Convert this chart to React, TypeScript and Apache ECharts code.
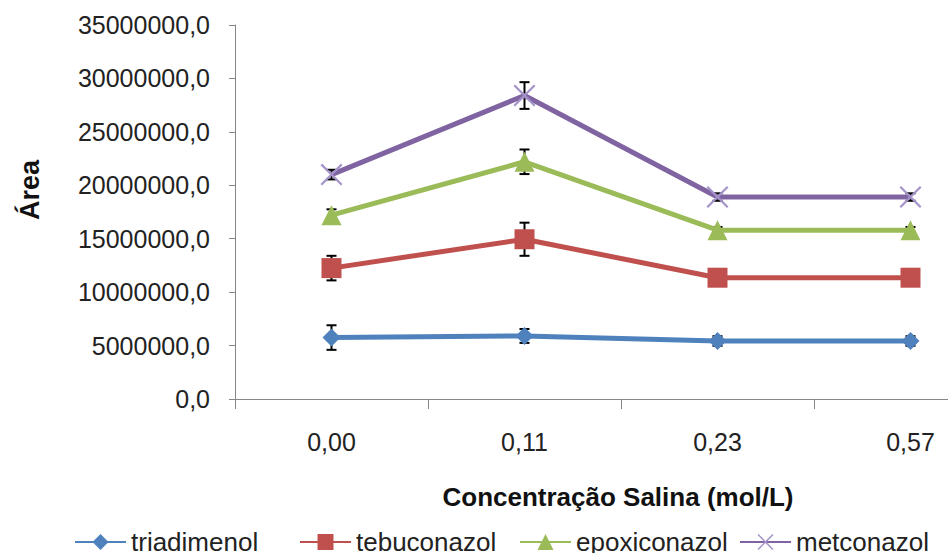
import React, { useEffect, useRef } from "react";
import * as echarts from "echarts";

const categories = ["0,00", "0,11", "0,23", "0,57"];
const seriesNames = ["triadimenol", "tebuconazol", "epoxiconazol", "metconazol"];
const triadimenol = [5750000, 5900000, 5430000, 5430000];
const triadimenolErr = [1150000, 650000, 450000, 450000];
const tebuconazol = [12250000, 14950000, 11350000, 11350000];
const tebuconazolErr = [1150000, 1550000, 250000, 250000];
const epoxiconazol = [17200000, 22200000, 15800000, 15800000];
const epoxiconazolErr = [550000, 1150000, 300000, 300000];
const metconazol = [21000000, 28400000, 18900000, 18900000];
const metconazolErr = [450000, 1250000, 350000, 350000];

const colors = ["#4F81BD", "#C0504D", "#9BBB59", "#8064A2"];
const FONT = "Liberation Sans";

export default function App() {
  const ref = useRef<HTMLDivElement>(null);
  useEffect(() => {
    if (!ref.current) return;
    const chart = echarts.init(ref.current, null, { renderer: "svg" });
    const values = [triadimenol, tebuconazol, epoxiconazol, metconazol];
    const errs = [triadimenolErr, tebuconazolErr, epoxiconazolErr, metconazolErr];
    const symbols = [
      "diamond",
      "rect",
      "triangle",
      "path://M0,0.7 L0.7,0 L10,9.3 L9.3,10 Z M9.3,0 L10,0.7 L0.7,10 L0,9.3 Z",
    ];
    const sizes = [18, 20, 20, 22];
    const symbolColors = ["#4F81BD", "#C0504D", "#9BBB59", "#A493C8"];
    const legendLefts = [69, 294, 514, 734];

    const lineSeries = seriesNames.map((name, i) => ({
      type: "line",
      name,
      data: values[i],
      symbol: symbols[i],
      symbolSize: sizes[i],
      showAllSymbol: true,
      lineStyle: { color: colors[i], width: 5 },
      itemStyle: { color: symbolColors[i] },
      z: 3,
    }));

    const errSeries = seriesNames.map((name, i) => ({
      type: "custom",
      name: "err-" + name,
      data: values[i].map((v, j) => [j, v - errs[i][j], v + errs[i][j]]),
      encode: { x: 0, y: [1, 2] },
      z: 2,
      renderItem: (params: any, api: any) => {
        const x = api.value(0);
        const lo = api.coord([x, api.value(1)]);
        const hi = api.coord([x, api.value(2)]);
        const hw = 5;
        const st = { stroke: "#000", lineWidth: 2 };
        return {
          type: "group",
          children: [
            { type: "line", shape: { x1: lo[0], y1: lo[1], x2: hi[0], y2: hi[1] }, style: st },
            { type: "line", shape: { x1: lo[0] - hw, y1: lo[1], x2: lo[0] + hw, y2: lo[1] }, style: st },
            { type: "line", shape: { x1: hi[0] - hw, y1: hi[1], x2: hi[0] + hw, y2: hi[1] }, style: st },
          ],
        };
      },
    }));

    const legends = seriesNames.map((name, i) => ({
      data: [name],
      left: legendLefts[i],
      top: 524,
      itemWidth: 51,
      itemHeight: 20,
      textStyle: { fontFamily: FONT, fontSize: 26, color: "#222" },
    }));

    chart.setOption({
      animation: false,
      backgroundColor: "#ffffff",
      textStyle: { fontFamily: FONT },
      grid: { left: 235, top: 25, width: 772, height: 374, outerBoundsMode: "none", containLabel: false },
      xAxis: {
        type: "category",
        data: categories,
        boundaryGap: true,
        axisLine: { lineStyle: { color: "#868686", width: 1 } },
        axisTick: { show: true, length: 10, lineStyle: { color: "#868686" } },
        axisLabel: { fontFamily: FONT, fontSize: 25, color: "#222", margin: 30 },
      },
      yAxis: {
        type: "value",
        min: 0,
        max: 35000000,
        interval: 5000000,
        splitLine: { show: false },
        axisLine: { show: true, lineStyle: { color: "#868686", width: 1 } },
        axisTick: { show: true, length: 6, lineStyle: { color: "#868686" } },
        axisLabel: {
          fontFamily: FONT,
          fontSize: 25,
          color: "#222",
          margin: 25,
          formatter: (v: number) => v.toFixed(1).replace(".", ","),
        },
      },
      legend: legends,
      graphic: [
        {
          type: "text",
          x: 30,
          y: 190,
          rotation: Math.PI / 2,
          style: {
            text: "Área",
            font: `bold 27px ${FONT}`,
            fill: "#111",
            textAlign: "center",
            textVerticalAlign: "middle",
          },
        },
        {
          type: "text",
          x: 618,
          y: 497,
          style: {
            text: "Concentração Salina (mol/L)",
            font: `bold 26px ${FONT}`,
            fill: "#111",
            textAlign: "center",
            textVerticalAlign: "middle",
          },
        },
      ],
      series: [...errSeries, ...lineSeries],
    });
    return () => chart.dispose();
  }, []);
  return (
    <div
      ref={ref}
      style={{ position: "fixed", left: 0, top: 0, width: 948, height: 553 }}
    />
  );
}
